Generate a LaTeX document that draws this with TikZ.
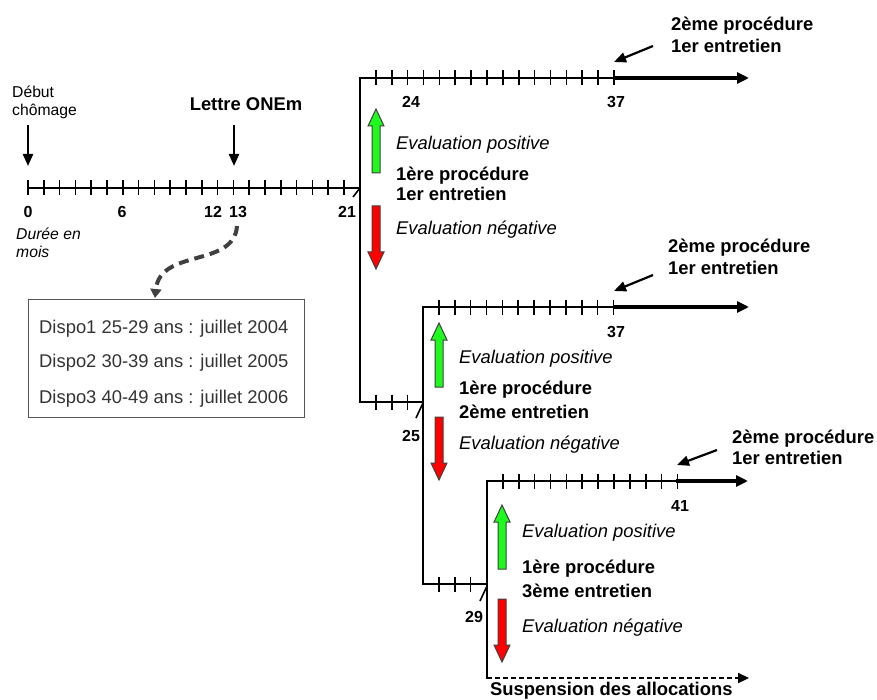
\documentclass[tikz,border=0pt]{standalone}
\usepackage{fontspec}
\setmainfont{Liberation Sans}
\usetikzlibrary{arrows.meta}
\definecolor{evgreen}{RGB}{30,250,30}
\definecolor{evred}{RGB}{255,0,0}
\definecolor{curvegray}{RGB}{64,64,64}
\definecolor{boxgray}{RGB}{85,85,85}
\definecolor{boxtext}{RGB}{51,51,51}
\tikzset{
  uparr/.pic={\draw[fill=evgreen, draw=black!75, line width=1pt, line join=miter]
     (0,0) -- (8,17) -- (4,17) -- (4,64) -- (-4,64) -- (-4,17) -- (-8,17) -- cycle;},
  dnarr/.pic={\draw[fill=evred, draw=black!75, line width=1pt, line join=miter]
     (-4,0) -- (4,0) -- (4,46) -- (8,46) -- (0,63) -- (-8,46) -- (-4,46) -- cycle;}
}
\begin{document}
\begin{tikzpicture}[x=1pt,y=-1pt,
  big/.style={font=\fontsize{18.4}{22}\selectfont\bfseries, inner sep=0pt, anchor=base west},
  it/.style={font=\fontsize{18.4}{22}\selectfont\itshape, inner sep=0pt, anchor=base west},
  boxt/.style={font=\fontsize{18.4}{22}\selectfont, text=boxtext, inner sep=0pt, anchor=base west},
  num/.style={font=\fontsize{16}{19}\selectfont\bfseries, inner sep=0pt, anchor=base},
  small/.style={font=\fontsize{15.7}{19}\selectfont, inner sep=0pt, anchor=base west},
  smallit/.style={font=\fontsize{15.7}{19}\selectfont\itshape, inner sep=0pt, anchor=base west},
  tl/.style={line width=2.2pt},
  tk/.style={line width=1.6pt},
  fwd/.style={line width=4pt, -{Triangle[length=12pt,width=11pt]}},
  ptr/.style={line width=2.2pt, -{Triangle[length=12pt,width=10pt]}},
]
\useasboundingbox (0,0) rectangle (877,700);

% ---------- main timeline ----------
\draw[tl] (28,188) -- (360,188);
\foreach \m in {0,...,20} \draw[tk] ({28+15.8*\m},180.5) -- ++(0,15);
\draw[tk] (353,197) -- (360,188);

% ---------- branch 1 ----------
\draw[tl] (614,78) -- (360,78) -- (360,402) -- (423,402);
\draw[fwd] (613,78) -- (749,78);
\foreach \m in {22,...,37} \draw[tk] ({360+15.87*(\m-21)},70.5) -- ++(0,15);
\foreach \m in {22,23,24} \draw[tk] ({360+15.87*(\m-21)},394.5) -- ++(0,15);
\draw[tk] (416,418) -- (423,403);

% ---------- branch 2 ----------
\draw[tl] (614,307) -- (423,307) -- (423,584) -- (487,584);
\draw[fwd] (613,307) -- (749,307);
\foreach \m in {26,...,37} \draw[tk] ({423+15.87*(\m-25)},299.5) -- ++(0,15);
\foreach \m in {26,27,28} \draw[tk] ({423+15.87*(\m-25)},576.5) -- ++(0,15);
\draw[tk] (480,601) -- (487,586);

% ---------- branch 3 ----------
\draw[tl] (677,481) -- (487,481) -- (487,679);
\draw[fwd] (676,481) -- (748,481);
\foreach \m in {30,...,41} \draw[tk] ({487+15.87*(\m-29)},473.5) -- ++(0,15);
\draw[line width=2.2pt, dash pattern=on 5pt off 3pt, -{Triangle[length=11pt,width=10pt]}] (487,678) -- (749,678);

% ---------- numbers ----------
\node[num] (n0)  at (28,218) {0};
\node[num] (n6)  at (122,218) {6};
\node[num] (n12) at (213,218) {12};
\node[num] (n13) at (238,218) {13};
\node[num] (n21) at (347,218) {21};
\node[num] (n24) at (411,108) {24};
\node[num] (n37a) at (616,108) {37};
\node[num] (n37b) at (616,337) {37};
\node[num] (n25) at (411,441) {25};
\node[num] (n41) at (680,511) {41};
\node[num] (n29) at (474,622) {29};

% ---------- left labels ----------
\node[small] (debut1) at (12,98) {Début};
\node[small] (debut2) at (12,116) {chômage};
\node[smallit] (duree1) at (16,240) {Durée en};
\node[smallit] (duree2) at (16,258) {mois};
\node[big, anchor=base] (lettre) at (246,111) {Lettre ONEm};

\coordinate (dA) at (28,125);
\coordinate (dB) at (28,166);
\coordinate (lA) at (234,125);
\coordinate (lB) at (234,166);
\draw[ptr] (dA) -- (dB);
\draw[ptr] (lA) -- (lB);

% ---------- box ----------
\node[draw=boxgray, line width=1.2pt, minimum width=276pt, minimum height=118pt,
      anchor=north west, inner sep=0pt] (box) at (28,299) {};
\node[boxt] (d1) at (39,333) {Dispo1 25-29 ans : juillet 2004};
\node[boxt] (d2) at (39,367) {Dispo2 30-39 ans : juillet 2005};
\node[boxt] (d3) at (39,403) {Dispo3 40-49 ans : juillet 2006};
\coordinate (c13) at (237,226);
\coordinate (cbox) at (155,298);
\draw[line width=4pt, draw=curvegray, dash pattern=on 10pt off 6pt,
      -{Triangle[length=9pt,width=11pt]}]
  (c13) .. controls (234,268) and (160,248) .. (cbox);

% ---------- block arrows ----------
\pic at (376,109) {uparr};
\pic at (376,206) {dnarr};
\pic at (439,323) {uparr};
\pic at (439,417) {dnarr};
\pic at (502,505) {uparr};
\pic at (502,599) {dnarr};

% ---------- branch texts ----------
\node[it]  (ep1) at (396,150) {Evaluation positive};
\node[big] (pr1) at (396,181) {1ère procédure};
\node[big] (en1) at (396,201) {1er entretien};
\node[it]  (en1n) at (396,235) {Evaluation négative};

\node[it]  (ep2) at (459,363) {Evaluation positive};
\node[big] (pr2) at (459,394) {1ère procédure};
\node[big] (en2) at (459,418) {2ème entretien};
\node[it]  (en2n) at (459,449) {Evaluation négative};

\node[it]  (ep3) at (522,537) {Evaluation positive};
\node[big] (pr3) at (522,573) {1ère procédure};
\node[big] (en3) at (522,597) {3ème entretien};
\node[it]  (en3n) at (522,632) {Evaluation négative};

\node[big] (sus) at (490,695) {Suspension des allocations};

% ---------- 2eme procedure labels ----------
\node[big] (s1a) at (671,31) {2ème procédure};
\node[big] (s1b) at (671,53) {1er entretien};
\node[big] (s2a) at (668,253) {2ème procédure};
\node[big] (s2b) at (668,275) {1er entretien};
\node[big] (s3a) at (732,443) {2ème procédure};
\node[big] (s3b) at (732,464) {1er entretien};

\coordinate (p1s) at (653,46);
\coordinate (p1e) at (614,62);
\coordinate (p2s) at (653,275);
\coordinate (p2e) at (614,291);
\coordinate (p3s) at (717,450);
\coordinate (p3e) at (677,465);
\draw[ptr] (p1s) -- (p1e);
\draw[ptr] (p2s) -- (p2e);
\draw[ptr] (p3s) -- (p3e);
\end{tikzpicture}
\end{document}
